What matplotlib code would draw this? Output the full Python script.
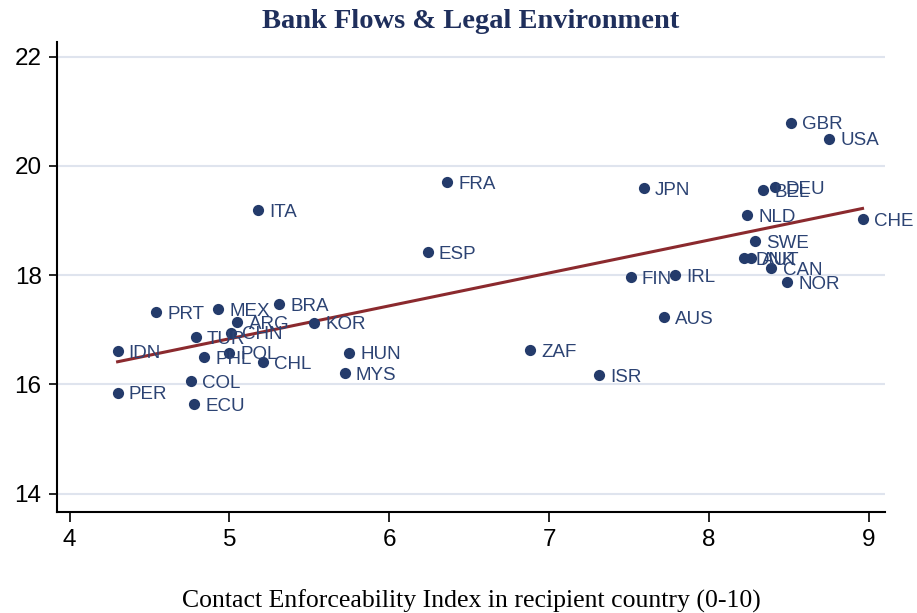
import numpy as np
import matplotlib
matplotlib.use('Agg')
import matplotlib.pyplot as plt

# 국가 코드, 계약 집행 지수, 은행 유입(log)
countries = ['GBR', 'USA', 'CHE', 'DEU', 'BEL', 'JPN', 'FRA', 'ITA', 'NLD', 'SWE',
             'ESP', 'DNK', 'AUT', 'CAN', 'NOR', 'FIN', 'IRL', 'AUS', 'ZAF', 'ISR',
             'HUN', 'MYS', 'KOR', 'BRA', 'MEX', 'PRT', 'ARG', 'CHN', 'TUR', 'IDN',
             'PHL', 'POL', 'CHL', 'COL', 'PER', 'ECU']
enforce = [8.51, 8.75, 8.96, 8.41, 8.34, 7.59, 6.36, 5.18, 8.24, 8.29,
           6.24, 8.22, 8.26, 8.39, 8.49, 7.51, 7.79, 7.72, 6.88, 7.31,
           5.75, 5.72, 5.53, 5.31, 4.93, 4.54, 5.05, 5.01, 4.79, 4.30,
           4.84, 5.00, 5.21, 4.76, 4.30, 4.78]
flows = [20.79, 20.50, 19.02, 19.61, 19.55, 19.59, 19.70, 19.19, 19.10, 18.62,
         18.42, 18.31, 18.31, 18.13, 17.87, 17.96, 18.00, 17.23, 16.63, 16.17,
         16.58, 16.21, 17.13, 17.47, 17.38, 17.32, 17.14, 16.95, 16.86, 16.61,
         16.50, 16.58, 16.41, 16.06, 15.85, 15.64]

x_ticks = [4, 5, 6, 7, 8, 9]
y_ticks = [14, 16, 18, 20, 22]

navy = '#243b6b'
label_color = '#2c4373'

fig = plt.figure(figsize=(9.17, 6.13), dpi=100)
ax = fig.add_axes([0.062, 0.165, 0.903, 0.766])

ax.scatter(enforce, flows, s=65, color=navy, zorder=3, linewidths=0)

for name, x, y in zip(countries, enforce, flows):
    ax.annotate(name, (x, y), xytext=(8, -1.5), textcoords='offset points',
                ha='left', va='center', fontsize=13.5, color=label_color,
                family='Liberation Sans', zorder=4)

# 회귀선
slope, intercept = np.polyfit(enforce, flows, 1)
xs = np.array([min(enforce), max(enforce)])
ax.plot(xs, intercept + slope * xs, color='#8b2a2e', linewidth=2.2, zorder=2)

ax.set_xlim(3.92, 9.10)
ax.set_ylim(13.67, 22.26)
ax.set_xticks(x_ticks)
ax.set_yticks(y_ticks)
ax.tick_params(axis='x', labelsize=17.5, length=7, width=1.2, direction='out', pad=5)
ax.tick_params(axis='y', labelsize=17.5, length=6, width=1.2, direction='out', pad=5)
for lab in ax.get_xticklabels() + ax.get_yticklabels():
    lab.set_family('Liberation Sans')
ax.grid(axis='y', color='#dfe4ee', linewidth=1.5, zorder=0)
ax.set_axisbelow(True)
for side in ['top', 'right']:
    ax.spines[side].set_visible(False)
for side in ['left', 'bottom']:
    ax.spines[side].set_linewidth(1.5)

ax.set_title('Bank Flows & Legal Environment', fontsize=20.5, fontweight='bold',
             color='#1f2f5c', family='Liberation Serif', pad=10)
ax.set_xlabel('Contact Enforceability Index in recipient country (0-10)',
              fontsize=18.5, family='Liberation Serif', labelpad=28)

fig.savefig('out.png', dpi=100)
